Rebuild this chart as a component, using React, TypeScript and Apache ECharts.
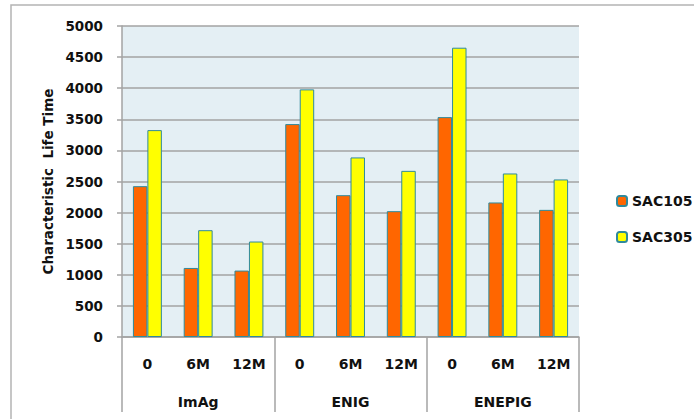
import React, { useEffect, useRef } from "react";
import * as echarts from "echarts";

// Sub-category (ageing) labels and finish groups
const subCategories = ["0", "6M", "12M", "0", "6M", "12M", "0", "6M", "12M"];
const finishGroups = ["ImAg", "ENIG", "ENEPIG"];

// Characteristic life per finish and ageing condition
const sac105 = [2425, 1110, 1068, 3423, 2280, 2023, 3535, 2163, 2044];
const sac305 = [3326, 1717, 1535, 3981, 2887, 2671, 4651, 2629, 2533];

const FONT = "DejaVu Sans";
const TEXT = "#111111";
const GRID_GRAY = "#a3a3a3";
const BAR_EDGE = "#2f8a9c";

export default function App() {
  const ref = useRef<HTMLDivElement>(null);

  useEffect(() => {
    if (!ref.current) return;
    const chart = echarts.init(ref.current, undefined, { renderer: "svg" });
    chart.setOption({
      animation: false,
      backgroundColor: "#ffffff",
      graphic: [
        {
          type: "rect",
          shape: { x: 11, y: 5, width: 720, height: 440 },
          style: { fill: "none", stroke: "#b4b4b4", lineWidth: 1.5 },
          silent: true,
        },
      ],
      grid: {
        left: 122,
        top: 26,
        right: 115,
        bottom: 82,
        show: true,
        backgroundColor: "#e4eff4",
        borderWidth: 0,
      },
      legend: {
        orient: "vertical",
        left: 611,
        top: 188,
        itemWidth: 10,
        itemHeight: 10,
        itemGap: 20,
        textStyle: {
          fontFamily: FONT,
          fontWeight: "bold",
          fontSize: 14,
          lineHeight: 16,
          color: TEXT,
        },
        data: ["SAC105", "SAC305"],
      },
      xAxis: [
        {
          type: "category",
          data: subCategories,
          position: "bottom",
          axisLine: { show: true, lineStyle: { color: GRID_GRAY, width: 1.5 } },
          axisTick: { show: false },
          axisLabel: {
            margin: 20,
            fontFamily: FONT,
            fontWeight: "bold",
            fontSize: 14,
            color: TEXT,
          },
          splitLine: { show: false },
        },
        {
          type: "category",
          data: finishGroups,
          position: "bottom",
          offset: 0,
          axisLine: { show: false },
          axisTick: {
            show: true,
            length: 75,
            lineStyle: { color: GRID_GRAY, width: 1.5 },
          },
          axisLabel: {
            margin: 58,
            fontFamily: FONT,
            fontWeight: "bold",
            fontSize: 14,
            color: TEXT,
          },
          splitLine: { show: false },
        },
      ],
      yAxis: {
        type: "value",
        min: 0,
        max: 5000,
        interval: 500,
        name: "Characteristic  Life Time",
        nameLocation: "middle",
        nameGap: 66,
        nameRotate: 90,
        nameTextStyle: {
          fontFamily: FONT,
          fontWeight: "bold",
          fontSize: 13.5,
          color: TEXT,
        },
        axisLine: { show: true, lineStyle: { color: GRID_GRAY, width: 1.5 } },
        axisTick: {
          show: true,
          length: 5,
          lineStyle: { color: GRID_GRAY, width: 1.5 },
        },
        axisLabel: {
          margin: 19,
          fontFamily: FONT,
          fontWeight: "bold",
          fontSize: 13.5,
          color: TEXT,
          formatter: (v: number) => String(v),
        },
        splitLine: { show: true, lineStyle: { color: GRID_GRAY, width: 1.5 } },
      },
      series: [
        {
          name: "SAC105",
          type: "bar",
          xAxisIndex: 0,
          data: sac105,
          barGap: "0%",
          barCategoryGap: "43%",
          itemStyle: { color: "#ff6600", borderColor: BAR_EDGE, borderWidth: 1 },
        },
        {
          name: "SAC305",
          type: "bar",
          xAxisIndex: 0,
          data: sac305,
          barGap: "0%",
          barCategoryGap: "43%",
          itemStyle: { color: "#ffff00", borderColor: BAR_EDGE, borderWidth: 1 },
        },
      ],
    });
    return () => chart.dispose();
  }, []);

  return (
    <div
      ref={ref}
      style={{ position: "fixed", left: 0, top: 0, width: 694, height: 419 }}
    />
  );
}
